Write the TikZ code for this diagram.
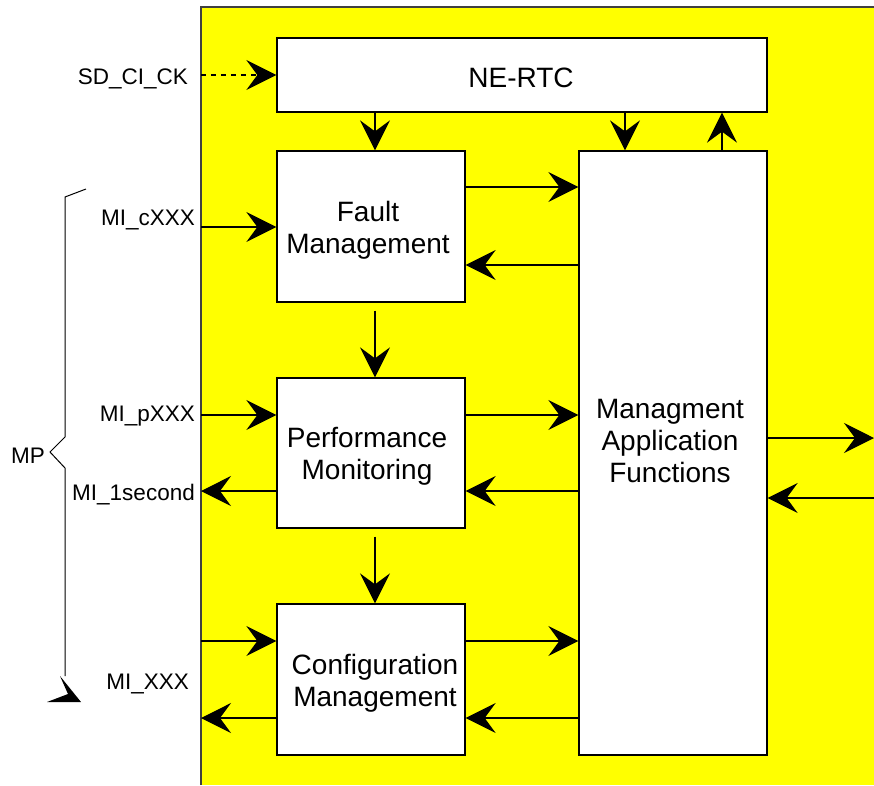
\documentclass[tikz,border=0pt]{standalone}
\usepackage{fontspec}
\setmainfont{Liberation Sans}
\usetikzlibrary{arrows.meta}
\definecolor{yel}{RGB}{255,255,0}
\tikzset{
  blk/.style={draw, line width=1.3pt, fill=white, inner sep=0pt, align=center,
    font=\fontsize{28}{32}\selectfont},
  txt/.style={inner sep=0pt, align=center, font=\fontsize{28}{32}\selectfont},
  arr/.style={line width=1.3pt, -{Stealth[length=30pt, width=30pt, inset=11pt]}},
  lbl/.style={anchor=east, inner sep=0pt, font=\fontsize{22.5}{26}\selectfont},
}
\begin{document}
\begin{tikzpicture}[x=1pt,y=-1pt]
\useasboundingbox (0,0) rectangle (874,785);
\fill[yel] (201,7) rectangle (874,785);
\draw[line width=1.3pt, black!75] (201,785) -- (201,7) -- (874,7);

\node[blk, minimum width=490pt, minimum height=74pt] (ne) at (522,75) {};
\node[blk, minimum width=188pt, minimum height=151pt] (fm) at (371,226.5) {};
\node[blk, minimum width=188pt, minimum height=150pt] (pm) at (371,453) {};
\node[blk, minimum width=188pt, minimum height=151pt] (cm) at (371,679.5) {};
\node[blk, minimum width=188pt, minimum height=604pt] (maf) at (673,453) {};

\node[txt] (net) at (521,78) {NE-RTC};
\node[txt] (fmt) at (368,230) {Fault\\Management};
\node[txt] (pmt) at (367,456) {Performance\\Monitoring};
\node[txt] (cmt) at (375,683) {Configuration\\Management};
\node[txt] (maft) at (670,441) {Managment\\Application\\Functions};

\coordinate (L) at (201,0);
\coordinate (R) at (874,0);
\coordinate (x375) at (375,0);
\coordinate (x625) at (625,0);
\coordinate (x722) at (722,0);

% vertical arrows
\draw[arr] (ne.south -| x375) -- (fm.north -| x375);
\draw[arr] (ne.south -| x625) -- (maf.north -| x625);
\draw[arr] (maf.north -| x722) -- (ne.south -| x722);
\draw[arr] ([shift={(0,8)}]fm.south -| x375) -- (pm.north -| x375);
\draw[arr] ([shift={(0,8)}]pm.south -| x375) -- (cm.north -| x375);

% horizontal arrows between blocks
\coordinate (y187) at (0,187);
\coordinate (y265) at (0,265);
\coordinate (y415) at (0,415);
\coordinate (y491) at (0,491);
\coordinate (y641) at (0,641);
\coordinate (y718) at (0,718);
\draw[arr] (fm.east |- y187) -- (maf.west |- y187);
\draw[arr] (maf.west |- y265) -- (fm.east |- y265);
\draw[arr] (pm.east |- y415) -- (maf.west |- y415);
\draw[arr] (maf.west |- y491) -- (pm.east |- y491);
\draw[arr] (cm.east |- y641) -- (maf.west |- y641);
\draw[arr] (maf.west |- y718) -- (cm.east |- y718);

% left inputs / outputs
\coordinate (y75) at (0,75);
\coordinate (y227) at (0,227);
\draw[arr, dash pattern=on 5pt off 5pt] (L |- y75) -- (ne.west |- y75);
\draw[arr] (L |- y227) -- (fm.west |- y227);
\draw[arr] (L |- y415) -- (pm.west |- y415);
\draw[arr] (pm.west |- y491) -- (L |- y491);
\draw[arr] (L |- y641) -- (cm.west |- y641);
\draw[arr] (cm.west |- y718) -- (L |- y718);

% right side
\coordinate (y438) at (0,438);
\coordinate (y498) at (0,498);
\draw[arr] (maf.east |- y438) -- (R |- y438);
\draw[arr] (R |- y498) -- (maf.east |- y498);

% labels
\node[lbl] (sd) at (188,79) {SD\_CI\_CK};
\node[lbl] (mic) at (195,220) {MI\_cXXX};
\node[lbl] (mip) at (195,416) {MI\_pXXX};
\node[lbl] (mi1) at (195,495) {MI\_1second};
\node[lbl] (mix) at (189,684) {MI\_XXX};
\node[lbl] (mp) at (45,456) {MP};

% brace
\draw[line width=1pt] (86,189) -- (65,197) -- (65,437) -- (50,452) -- (65,468) -- (65,676);
\fill (60,676) -- (81,702) -- (47,702) -- (68,694) -- cycle;
\end{tikzpicture}
\end{document}
